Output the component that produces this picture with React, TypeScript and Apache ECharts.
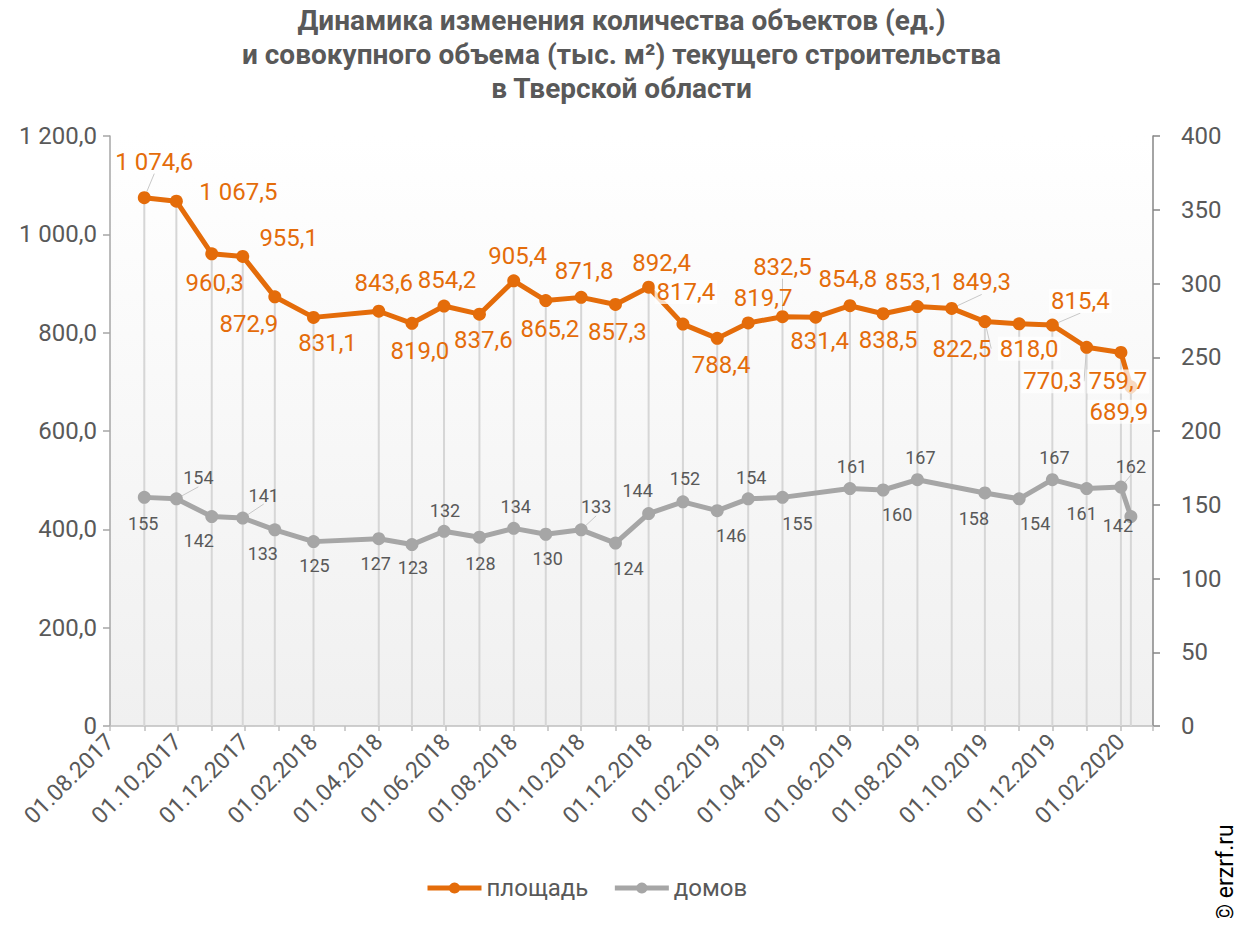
import { useEffect, useRef } from 'react';
import * as echarts from 'echarts';

const dates = [
  '2017-09-01', '2017-09-30', '2017-11-01', '2017-11-29', '2017-12-28', '2018-02-01',
  '2018-04-01', '2018-05-01', '2018-05-30', '2018-07-01', '2018-08-01', '2018-08-30',
  '2018-10-01', '2018-11-01', '2018-12-01', '2019-01-01', '2019-02-01', '2019-03-01',
  '2019-04-01', '2019-05-01', '2019-06-01', '2019-07-01', '2019-08-01', '2019-09-01',
  '2019-10-01', '2019-11-01', '2019-12-01', '2020-01-01', '2020-02-01', '2020-02-10',
];

const area = [
  1074.6, 1067.5, 960.3, 955.1, 872.9, 831.1, 843.6, 819.0, 854.2, 837.6, 905.4, 865.2,
  871.8, 857.3, 892.4, 817.4, 788.4, 819.7, 832.5, 831.4, 854.8, 838.5, 853.1, 849.3,
  822.5, 818.0, 815.4, 770.3, 759.7, 689.9,
];

const houses: (number | null)[] = [
  155, 154, 142, 141, 133, 125, 127, 123, 132, 128, 134, 130, 133, 124, 144, 152, 146, 154,
  155, null, 161, 160, 167, null, 158, 154, 167, 161, 162, 142,
];

const xLabelDates = [
  '2017-08-01', '2017-10-01', '2017-12-01', '2018-02-01', '2018-04-01', '2018-06-01',
  '2018-08-01', '2018-10-01', '2018-12-01', '2019-02-01', '2019-04-01', '2019-06-01',
  '2019-08-01', '2019-10-01', '2019-12-01', '2020-02-01',
];

const xMin = '2017-08-01';
const xMax = '2020-03-01';

const leftTicks = [0, 200, 400, 600, 800, 1000, 1200];
const rightTicks = [0, 50, 100, 150, 200, 250, 300, 350, 400];

// label placement (layout, not data)
const areaLabelOffsets: [number, number][] = [
  [10, -36], [62, -9], [3, 29], [46, -18], [-26, 27], [14, 26], [5, -28], [8, 28],
  [3, -26], [4, 26], [4, -25], [4, 28], [3, -26], [2, 28], [13, -24], [3, -32],
  [4, 27], [15, -25], [0, -50], [4, 24], [-2, -27], [5, 26], [-3, -25], [30, -26],
  [-23, 27], [10, 25], [28, -24], [-34, 34], [-3, 29], [-12, 25],
];
const areaLabelBg = [15, 25, 26, 27, 28, 29];
const areaLeader = [0, 18, 23, 24, 26, 27];

const houseLabelOffsets: [number, number][] = [
  [-1, 26], [22, -21], [-13, 24], [21, -23], [-12, 24], [1, 24], [-3, 25], [1, 23],
  [1, -21], [1, 26], [2, -22], [2, 24], [15, -23], [13, 25], [-11, -23], [2, -23],
  [14, 25], [3, -21], [15, 26], [0, 0], [2, -22], [14, 24], [3, -22], [0, 0],
  [-11, 26], [16, 25], [2, -22], [-5, 25], [10, -21], [-13, 9],
];
const houseLeader = [1, 3, 12, 14, 28];

const ORANGE = '#E46C0A';
const GRAY = '#A6A6A6';
const TEXT = '#595959';
const FONT = 'Roboto';

function toTs(s: string): number {
  const [y, m, d] = s.split('-').map(Number);
  return Date.UTC(y, m - 1, d);
}

function fmtNum(v: number): string {
  const [i, d] = v.toFixed(1).split('.');
  return i.replace(/\B(?=(\d{3})+(?!\d))/g, ' ') + ',' + d;
}

function pad(n: number) {
  return n < 10 ? '0' + n : '' + n;
}

function monthTicks(): number[] {
  const out: number[] = [];
  const start = new Date(toTs(xMin));
  const end = toTs(xMax);
  let y = start.getUTCFullYear();
  let m = start.getUTCMonth();
  while (true) {
    const t = Date.UTC(y, m, 1);
    if (t > end) break;
    out.push(t);
    m++;
    if (m > 11) { m = 0; y++; }
  }
  return out;
}

const leaderStyle = { show: true, lineStyle: { color: '#C8C8C8', width: 1 } };

export default function App() {
  const ref = useRef<HTMLDivElement>(null);

  useEffect(() => {
    if (!ref.current) return;
    const chart = echarts.init(ref.current, undefined, { renderer: 'svg' });

    const areaData = dates.map((d, i) => ({
      value: [toTs(d), area[i]],
      label: {
        offset: areaLabelOffsets[i],
        ...(areaLabelBg.includes(i)
          ? { backgroundColor: 'rgba(255,255,255,0.75)', padding: [0, 2] }
          : {}),
      },
      ...(areaLeader.includes(i) ? { labelLine: leaderStyle } : {}),
    }));

    const houseData = dates.map((d, i) => ({
      value: [toTs(d), houses[i] === null ? '-' : houses[i]],
      label: { offset: houseLabelOffsets[i] },
      ...(houseLeader.includes(i) ? { labelLine: leaderStyle } : {}),
    }));

    const dropData = dates.map((d, i) => [toTs(d), area[i]]);

    chart.setOption({
      animation: false,
      title: {
        text:
          'Динамика изменения количества объектов (ед.)\nи совокупного объема (тыс. м²) текущего строительства\nв Тверской области',
        left: 'center',
        top: -2,
        textStyle: {
          fontFamily: FONT,
          fontSize: 28,
          fontWeight: 'bold',
          color: TEXT,
          lineHeight: 34,
        },
      },
      legend: {
        data: ['площадь', 'домов'],
        left: 420,
        top: 871,
        itemWidth: 54,
        itemHeight: 14,
        itemGap: 24,
        lineStyle: { width: 5 },
        textStyle: { fontFamily: FONT, fontSize: 24, color: TEXT },
      },
      grid: {
        left: 110,
        right: 90,
        top: 136,
        bottom: 200,
        show: true,
        borderWidth: 0,
        backgroundColor: new echarts.graphic.LinearGradient(0, 0, 0, 1, [
          { offset: 0, color: '#FFFFFF' },
          { offset: 1, color: '#F0F0F0' },
        ]),
      },
      xAxis: {
        type: 'value',
        min: toTs(xMin),
        max: toTs(xMax),
        axisLine: { show: true, onZero: false, lineStyle: { color: '#BFBFBF', width: 1.5 } },
        axisTick: {
          show: true,
          length: 5,
          customValues: monthTicks(),
          lineStyle: { color: '#BFBFBF', width: 1.5 },
        },
        axisLabel: {
          customValues: xLabelDates.map(toTs),
          rotate: 45,
          margin: 12,
          fontFamily: FONT,
          fontSize: 23,
          color: TEXT,
          formatter: (v: number) => {
            const d = new Date(v);
            return pad(d.getUTCDate()) + '.' + pad(d.getUTCMonth() + 1) + '.' + d.getUTCFullYear();
          },
        },
        splitLine: { show: false },
      },
      yAxis: [
        {
          type: 'value',
          min: leftTicks[0],
          max: leftTicks[leftTicks.length - 1],
          interval: leftTicks[1] - leftTicks[0],
          axisLine: { show: true, lineStyle: { color: '#A6A6A6', width: 1.5 } },
          axisTick: { show: true, length: 7, lineStyle: { color: '#A6A6A6', width: 1.5 } },
          axisLabel: {
            margin: 13,
            fontFamily: FONT,
            fontSize: 24,
            color: TEXT,
            formatter: (v: number) => (v === 0 ? '0' : fmtNum(v)),
          },
          splitLine: { show: false },
        },
        {
          type: 'value',
          min: rightTicks[0],
          max: rightTicks[rightTicks.length - 1],
          interval: rightTicks[1] - rightTicks[0],
          position: 'right',
          axisLine: { show: true, lineStyle: { color: '#868686', width: 1.5 } },
          axisTick: { show: true, length: 7, lineStyle: { color: '#868686', width: 1.5 } },
          axisLabel: {
            margin: 28,
            fontFamily: FONT,
            fontSize: 24,
            color: TEXT,
          },
          splitLine: { show: false },
        },
      ],
      series: [
        {
          name: 'drop',
          type: 'bar',
          yAxisIndex: 0,
          data: dropData,
          barWidth: 2,
          silent: true,
          z: 1,
          itemStyle: { color: '#D6D6D6' },
        },
        {
          name: 'домов',
          type: 'line',
          yAxisIndex: 1,
          data: houseData,
          connectNulls: true,
          symbol: 'circle',
          symbolSize: 13,
          z: 3,
          lineStyle: { color: GRAY, width: 5 },
          itemStyle: { color: GRAY },
          label: {
            show: true,
            position: 'inside',
            fontFamily: FONT,
            fontSize: 18,
            color: TEXT,
            formatter: (p: any) => String(p.value[1]),
          },
        },
        {
          name: 'площадь',
          type: 'line',
          yAxisIndex: 0,
          data: areaData,
          symbol: 'circle',
          symbolSize: 13,
          z: 4,
          lineStyle: { color: ORANGE, width: 5 },
          itemStyle: { color: ORANGE },
          label: {
            show: true,
            position: 'inside',
            fontFamily: FONT,
            fontSize: 24,
            color: ORANGE,
            formatter: (p: any) => fmtNum(p.value[1]),
          },
        },
      ],
      graphic: [
        {
          type: 'text',
          x: 1237,
          y: 922,
          rotation: Math.PI / 2,
          style: {
            text: '© erzrf.ru',
            fontFamily: FONT,
            fontSize: 23,
            fill: '#000000',
            textAlign: 'left',
            textVerticalAlign: 'bottom',
          },
        },
      ],
    });

    return () => chart.dispose();
  }, []);

  return <div ref={ref} style={{ width: 1243, height: 926, margin: -8 }} />;
}
